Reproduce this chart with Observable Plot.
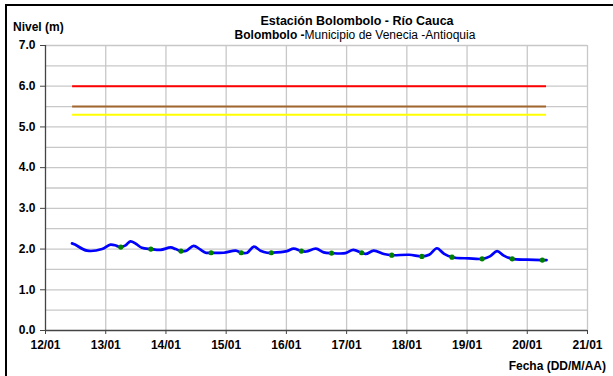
<!DOCTYPE html>
<html>
<head>
<meta charset="utf-8">
<script src="https://cdn.jsdelivr.net/npm/d3@7"></script>
<script src="https://cdn.jsdelivr.net/npm/@observablehq/plot@0.6"></script>
<style>
  html, body { margin: 0; padding: 0; background: #fff; }
  #wrap { position: relative; width: 613px; height: 376px; overflow: hidden; font-family: "Liberation Sans", Arial, sans-serif; }
  #frame { position: absolute; left: 5px; top: 4px; width: 700px; height: 500px; border-left: 2px solid #000; border-top: 2px solid #000; }
  .t { position: absolute; white-space: nowrap; color: #000; font-size: 12px; line-height: 1; }
  .b { font-weight: bold; }
  #chart { position: absolute; left: 0; top: 0; }
</style>
</head>
<body>
<div id="wrap">
  <div id="chart"></div>
  <div id="frame"></div>
  <div class="t b" style="left:13px; top:21px;">Nivel (m)</div>
  <div class="t b" style="left:357px; top:15px; font-size:12.5px; transform:translateX(-50%);">Estación Bolombolo - Río Cauca</div>
  <div class="t" style="left:355px; top:29px; transform:translateX(-50%);"><span class="b">Bolombolo -</span>Municipio de Venecia -Antioquia</div>
  <div class="t b" style="right:7px; top:360px;">Fecha (DD/M/AA)</div>
</div>
<script>
// Time in days of January (12 = 12/01 00:00)
const levelDays = [12.44, 12.49, 12.69, 12.94, 13.08, 13.18, 13.25, 13.33, 13.41, 13.50, 13.60, 13.75, 13.91,
  14.08, 14.16, 14.25, 14.34, 14.46, 14.56, 14.66, 14.75, 14.96, 15.16, 15.25, 15.35, 15.46, 15.57, 15.68, 15.75,
  16.01, 16.12, 16.25, 16.33, 16.49, 16.62, 16.75, 16.98, 17.11, 17.25, 17.32, 17.45, 17.62, 17.75, 18.04, 18.25,
  18.37, 18.50, 18.62, 18.75, 19.03, 19.25, 19.38, 19.50, 19.61, 19.75, 20.00, 20.25, 20.32];
const levels = [2.14, 2.11, 1.96, 2.00, 2.11, 2.08, 2.05, 2.09, 2.19, 2.13, 2.03, 2.00, 1.98,
  2.04, 2.00, 1.95, 1.96, 2.08, 2.00, 1.91, 1.91, 1.91, 1.96, 1.91, 1.91, 2.06, 1.96, 1.91, 1.91,
  1.95, 2.01, 1.95, 1.94, 2.01, 1.92, 1.90, 1.90, 1.98, 1.91, 1.88, 1.96, 1.88, 1.85, 1.86, 1.82,
  1.86, 2.02, 1.88, 1.80, 1.77, 1.76, 1.82, 1.95, 1.84, 1.76, 1.74, 1.73, 1.73];

const pointDays = [13.25, 13.75, 14.25, 14.75, 15.25, 15.75, 16.25, 16.75, 17.25, 17.75, 18.25, 18.75, 19.25, 19.75, 20.25];
const pointLevels = [2.05, 2.00, 1.95, 1.91, 1.91, 1.91, 1.95, 1.90, 1.91, 1.85, 1.82, 1.80, 1.76, 1.76, 1.73];

const thresholdLevels = [6.0, 5.5, 5.3];
const thresholdColors = ["#ff0000", "#a0662d", "#ffff00"];
const thresholdStart = 12.45;
const thresholdEnd = 20.32;

const xTicks = [12, 13, 14, 15, 16, 17, 18, 19, 20, 21];
const yTicks = [0, 1, 2, 3, 4, 5, 6, 7];
const yGrid = [0.5, 1, 1.5, 2, 2.5, 3, 3.5, 4, 4.5, 5, 5.5, 6, 6.5, 7];

const series = levelDays.map((d, i) => ({day: d, level: levels[i]}));
const points = pointDays.map((d, i) => ({day: d, level: pointLevels[i]}));
const thresholds = thresholdLevels.map((v, i) => ({level: v, color: thresholdColors[i], x1: thresholdStart, x2: thresholdEnd}));

const xFmt = d => String(d).padStart(2, "0") + "/01";

const chart = Plot.plot({
  width: 613,
  height: 376,
  marginLeft: 45,
  marginRight: 26,
  marginTop: 45,
  marginBottom: 46,
  style: {fontFamily: "'Liberation Sans', Arial, sans-serif", fontSize: "12px", fontWeight: "bold", color: "#000", background: "transparent"},
  x: {domain: [12, 21], label: null},
  y: {domain: [0, 7], label: null},
  marks: [
    Plot.ruleY(yGrid, {stroke: "#c8c8c8", strokeWidth: 1.3}),
    Plot.ruleX(xTicks.slice(1), {stroke: "#c8c8c8", strokeWidth: 1.3}),
    Plot.ruleY(thresholds, {y: "level", x1: "x1", x2: "x2", stroke: "color", strokeWidth: 2}),
    Plot.line(series, {x: "day", y: "level", stroke: "#0000ff", strokeWidth: 2.7, curve: "catmull-rom"}),
    Plot.dot(points, {x: "day", y: "level", r: 2.6, fill: "#008000", stroke: "none"}),
    Plot.axisX({ticks: xTicks, tickFormat: xFmt, tickSize: 4, tickPadding: 6, label: null, stroke: "#444"}),
    Plot.axisY({ticks: yTicks, tickFormat: d3.format(".1f"), tickSize: 5, tickPadding: 5, label: null, stroke: "#444"}),
    Plot.ruleY([0], {stroke: "#444", strokeWidth: 1.3}),
    Plot.ruleX([12], {stroke: "#444", strokeWidth: 1.3})
  ]
});
document.getElementById("chart").appendChild(chart);
</script>
</body>
</html>
